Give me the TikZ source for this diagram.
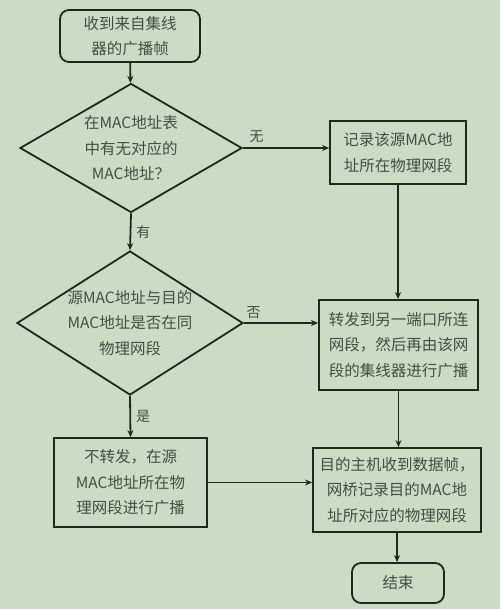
\documentclass[tikz,border=0pt]{standalone}
\usepackage{fontspec}
\setmainfont{Noto Sans CJK SC}
\usetikzlibrary{shapes.geometric,arrows.meta}
\definecolor{bg}{HTML}{CADDC4}
\definecolor{ln}{HTML}{1C2A1C}
\definecolor{tx}{HTML}{454D45}
\begin{document}
\begin{tikzpicture}[x=1pt,y=-1pt,
  every node/.style={text=tx,font=\fontsize{15.5}{25.5}\selectfont,align=center,inner sep=0pt},
  box/.style={draw=ln,line width=1.8pt,fill=bg},
  rbox/.style={box,rounded corners=9pt},
  dia/.style={draw=ln,line width=1.8pt,diamond,aspect=1.7},
  conn/.style={draw=ln,line width=1.8pt,-{Stealth[length=7pt,width=6pt]}},
  lbl/.style={font=\fontsize{14}{16}\selectfont}]
\fill[bg] (0,0) rectangle (500,609);
\useasboundingbox (0,0) rectangle (500,609);
\node[rbox,minimum width=140pt,minimum height=52pt] (start) at (130,36) {收到来自集线\\器的广播帧};
\node[dia,minimum width=222pt,minimum height=129pt] (d1) at (131,148) {};
\node (t1) at (d1.center) {在MAC地址表\\中有无对应的\\MAC地址？};
\node[box,minimum width=136pt,minimum height=63pt] (rec) at (398,152.5) {记录该源MAC地\\址所在物理网段};
\node[dia,minimum width=226pt,minimum height=144pt] (d2) at (130,323) {};
\node (t2) at (d2.center) {源MAC地址与目的\\MAC地址是否在同\\物理网段};
\node[box,minimum width=159pt,minimum height=90pt] (fwd) at (398.5,345) {转发到另一端口所连\\网段，然后再由该网\\段的集线器进行广播};
\node[box,minimum width=153pt,minimum height=89pt] (nof) at (130.5,482.5) {不转发，在源\\MAC地址所在物\\理网段进行广播};
\node[box,minimum width=168pt,minimum height=84pt] (dst) at (397,490) {目的主机收到数据帧，\\网桥记录目的MAC地\\址所对应的物理网段};
\node[rbox,minimum width=92pt,minimum height=40pt] (end) at (398,583) {结束};
\draw[conn] (start) -- (d1);
\draw[conn] (d1.east) -- (d1.east -| rec.west) node[lbl,pos=0.16,above=4pt] (l1) {无};
\draw[conn] (rec.south) -- (rec.south |- fwd.north);
\draw[conn] (d1.south) -- (d2.north) node[lbl,midway,right=5pt] (l2) {有};
\draw[conn] (d2.east) -- (d2.east -| fwd.west) node[lbl,pos=0.13,above=3pt] (l3) {否};
\draw[conn] (d2.south) -- (nof.north) node[lbl,midway,right=5pt] (l4) {是};
\draw[conn] (nof.east) -- (nof.east -| dst.west);
\draw[conn] (fwd.south) -- (fwd.south |- dst.north);
\draw[conn] (dst.south) -- (dst.south |- end.north);
\end{tikzpicture}
\end{document}
